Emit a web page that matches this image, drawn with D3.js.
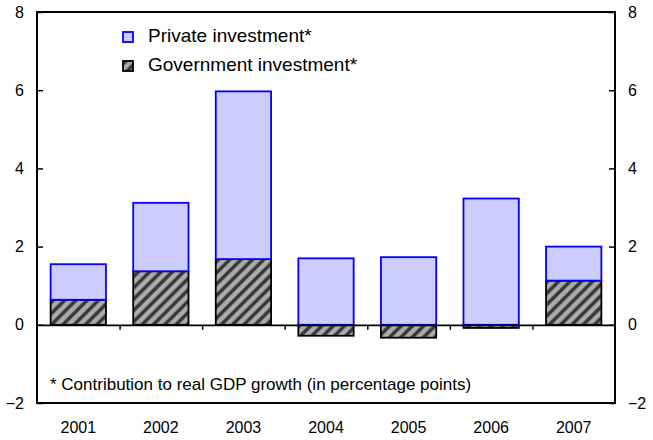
<!DOCTYPE html>
<html>
<head>
<meta charset="utf-8">
<script src="https://cdn.jsdelivr.net/npm/d3@7"></script>
<style>
  body { margin: 0; background: #fff; }
  text { font-family: "Liberation Sans", Arial, sans-serif; fill: #000; }
</style>
</head>
<body>
<svg id="chart" width="653" height="440"></svg>
<script>
// values (percentage point contributions)
var years = ["2001", "2002", "2003", "2004", "2005", "2006", "2007"];
var privateInv = [0.91, 1.75, 4.29, 1.70, 1.73, 3.23, 0.87];
var govInv = [0.64, 1.37, 1.68, -0.28, -0.33, -0.08, 1.13];
var yTicks = [-2, 0, 2, 4, 6, 8];
var seriesNames = ["Private investment*", "Government investment*"];
var footnote = "* Contribution to real GDP growth (in percentage points)";

var svg = d3.select("#chart");
// plot frame (window.top is reserved, so not called top)
var plotL = 37, plotR = 615, plotT = 12, plotB = 403;

var x = d3.scaleBand()
    .domain(years)
    .range([plotL, plotR])
    .paddingInner(0.33)
    .paddingOuter(0.165);

var y = d3.scaleLinear()
    .domain([-2, 8])
    .range([plotB, plotT]);

// boundaries between the categories, for the small ticks on the zero line
var xb = d3.scaleLinear()
    .domain([0, years.length])
    .range([plotL, plotR]);

// hatch for government investment
var defs = svg.append("defs");
var pat = defs.append("pattern")
    .attr("id", "hatch")
    .attr("patternUnits", "userSpaceOnUse")
    .attr("width", 8)
    .attr("height", 8)
    .attr("patternTransform", "rotate(45)");
pat.append("rect")
    .attr("width", 8).attr("height", 8)
    .attr("fill", "#ababab");
pat.append("line")
    .attr("x1", 2).attr("y1", 0)
    .attr("x2", 2).attr("y2", 8)
    .attr("stroke", "#333")
    .attr("stroke-width", 3.4);

var data = years.map(function(yr, i) {
    var g = govInv[i];
    var base = Math.max(g, 0);
    return { year: yr, gov: g, priv0: base, priv1: base + privateInv[i] };
});

// government bars
svg.append("g")
  .selectAll("rect")
  .data(data)
  .enter().append("rect")
    .attr("x", function(d) { return x(d.year); })
    .attr("width", x.bandwidth())
    .attr("y", function(d) { return y(Math.max(d.gov, 0)); })
    .attr("height", function(d) { return Math.abs(y(d.gov) - y(0)); })
    .attr("fill", "url(#hatch)")
    .attr("stroke", "#000")
    .attr("stroke-width", 1.8);

// private bars
svg.append("g")
  .selectAll("rect")
  .data(data)
  .enter().append("rect")
    .attr("x", function(d) { return x(d.year); })
    .attr("width", x.bandwidth())
    .attr("y", function(d) { return y(d.priv1); })
    .attr("height", function(d) { return y(d.priv0) - y(d.priv1); })
    .attr("fill", "#ccccff")
    .attr("stroke", "#0000ff")
    .attr("stroke-width", 1.8);

// zero line with category ticks
svg.append("g")
    .attr("transform", "translate(0," + y(0) + ")")
    .call(d3.axisBottom(xb)
        .tickValues(d3.range(1, years.length))
        .tickSizeInner(5)
        .tickSizeOuter(0)
        .tickFormat(""))
    .call(function(g) {
        g.select(".domain").attr("stroke-width", 1.8);
        g.selectAll(".tick line").attr("stroke-width", 1.5);
    });

// frame
svg.append("rect")
    .attr("x", plotL).attr("y", plotT)
    .attr("width", plotR - plotL).attr("height", plotB - plotT)
    .attr("fill", "none")
    .attr("stroke", "#000")
    .attr("stroke-width", 2);

// y axes, ticks pointing inwards
svg.append("g")
    .attr("transform", "translate(" + plotL + ",0)")
    .call(d3.axisLeft(y).tickValues(yTicks).tickSize(-6).tickPadding(13))
    .call(function(g) {
        g.select(".domain").remove();
        g.selectAll(".tick line").attr("stroke-width", 1.5);
        g.selectAll("text").attr("font-size", 16).style("font-family", "Liberation Sans, Arial, sans-serif");
    });

svg.append("g")
    .attr("transform", "translate(" + plotR + ",0)")
    .call(d3.axisRight(y).tickValues(yTicks).tickSize(-6).tickPadding(13))
    .call(function(g) {
        g.select(".domain").remove();
        g.selectAll(".tick line").attr("stroke-width", 1.5);
        g.selectAll("text").attr("font-size", 16).style("font-family", "Liberation Sans, Arial, sans-serif");
    });

// year labels
svg.append("g")
    .attr("transform", "translate(0," + plotB + ")")
    .call(d3.axisBottom(x).tickSize(0).tickPadding(19))
    .call(function(g) {
        g.select(".domain").remove();
        g.selectAll("text").attr("font-size", 16).style("font-family", "Liberation Sans, Arial, sans-serif");
    });

// legend
var legend = svg.append("g")
    .attr("transform", "translate(123,32)");
var fills = ["#ccccff", "url(#hatch)"];
var strokes = ["#0000ff", "#000"];
seriesNames.forEach(function(name, i) {
    var row = legend.append("g").attr("transform", "translate(0," + (i * 29) + ")");
    row.append("rect")
        .attr("width", 10).attr("height", 10)
        .attr("fill", fills[i])
        .attr("stroke", strokes[i])
        .attr("stroke-width", 1.8);
    row.append("text")
        .attr("x", 25).attr("y", 10)
        .attr("font-size", 19)
        .text(name);
});

svg.append("text")
    .attr("x", 50).attr("y", 390)
    .attr("font-size", 17)
    .text(footnote);
</script>
</body>
</html>
